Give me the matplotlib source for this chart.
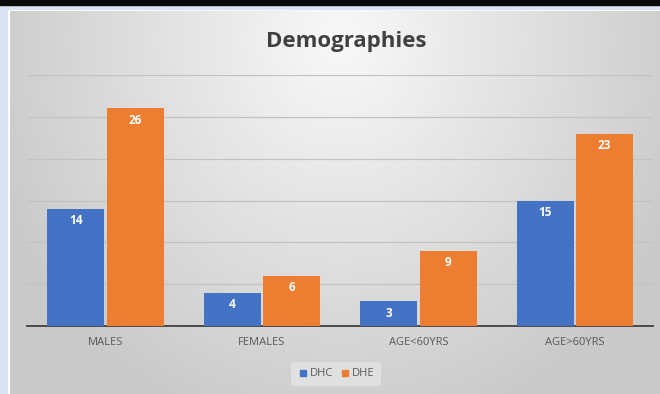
import numpy as np
import matplotlib
matplotlib.use("Agg")
import matplotlib.pyplot as plt
from matplotlib.patches import Rectangle
from matplotlib.lines import Line2D

categories = ["MALES", "FEMALES", "AGE<60YRS", "AGE>60YRS"]
series_names = ["DHC", "DHE"]
dhc = [14, 4, 3, 15]
dhe = [26, 6, 9, 23]
colors = ["#4472C4", "#ED7D31"]

W, H = 660, 394
fig = plt.figure(figsize=(W / 100, H / 100), dpi=100)
fig.patch.set_facecolor("white")

# page decorations
bg = fig.add_axes([0, 0, 1, 1], zorder=-10)
bg.axis("off")
x0, y0 = 10, 11
xx, yy = np.meshgrid(np.linspace(x0, W, 300), np.linspace(y0, H, 200))
d = np.sqrt(((xx - 340) / 380) ** 2 + ((yy - 40) / 420) ** 2)
val = np.clip(0.975 - 0.19 * d, 0.79, 0.975)
img = np.dstack([val, val, val])
bg.imshow(img, extent=[x0, W, H, y0], aspect="auto", interpolation="bilinear", zorder=1)
bg.add_patch(Rectangle((0, 0), 7, H, color="#DAE3F3", zorder=2))
bg.add_patch(Rectangle((0, 4), W, 4.5, color="#DAE3F3", zorder=2))
bg.add_patch(Rectangle((0, 0), W, 4.5, color="#0a0a0a", zorder=3))
bg.set_xlim(0, W); bg.set_ylim(H, 0)

ax = fig.add_axes([27.25 / W, (H - 326) / H, (653 - 27.25) / W, 251 / H])
ax.set_facecolor("none")
x = np.arange(len(categories))
w = 0.365
off = 0.19
b1 = ax.bar(x - off, dhc, w, color=colors[0], zorder=3)
b2 = ax.bar(x + off, dhe, w, color=colors[1], zorder=3)
for bars, vals in ((b1, dhc), (b2, dhe)):
    for b, v in zip(bars, vals):
        ax.text(b.get_x() + b.get_width() / 2, v - 1.45, str(v), ha="center", va="center",
                color="white", fontsize=8.5, fontweight="bold", family="Open Sans", zorder=4)
ax.set_xlim(-0.5, 3.5)
ax.set_ylim(0, 30)
ax.set_yticks([5, 10, 15, 20, 25, 30])
ax.yaxis.grid(True, color="#c2c2c2", linewidth=0.9, zorder=0)
ax.tick_params(axis="y", left=False, labelleft=False)
ax.set_xticks(x)
ax.set_xticklabels(categories, fontsize=8, color="#595959", family="Open Sans")
ax.tick_params(axis="x", length=0, pad=8)
for s in ("top", "right", "left"):
    ax.spines[s].set_visible(False)
ax.spines["bottom"].set_color("#404040")
ax.spines["bottom"].set_linewidth(1.3)

fig.text(346 / W, 1 - 42 / H, "Demographies", ha="center", va="center",
         fontsize=16, fontweight="bold", color="#404040", family="Open Sans")

handles = [Line2D([], [], marker="s", linestyle="none", markersize=5, color=c) for c in colors]
leg = fig.legend(handles, series_names, loc="center", bbox_to_anchor=(336 / W, 1 - 374 / H),
                 ncol=2, frameon=True, fontsize=8, handletextpad=0.1, columnspacing=0.6,
                 handlelength=1.0, borderpad=0.6)
leg.get_frame().set_facecolor("#e0e0e0")
leg.get_frame().set_edgecolor("none")
leg.get_frame().set_alpha(1)
for t in leg.get_texts():
    t.set_color("#595959")
    t.set_family("Open Sans")

fig.savefig("out.png", dpi=100)
